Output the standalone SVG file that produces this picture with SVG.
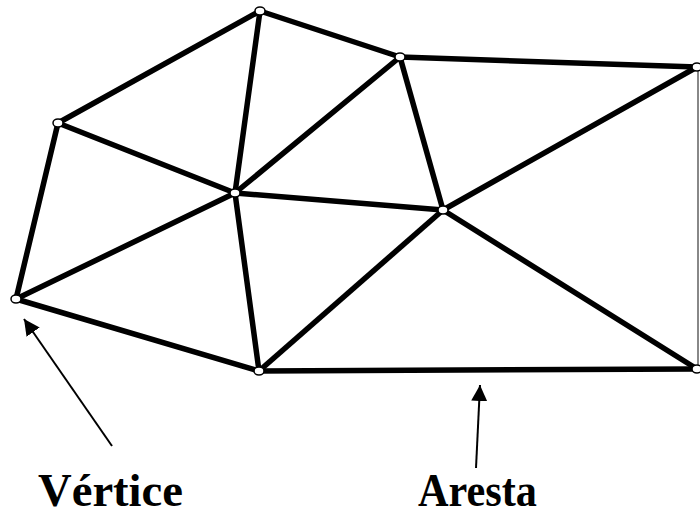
<svg xmlns="http://www.w3.org/2000/svg" width="700" height="517" viewBox="0 0 700 517">
<style>
.e{stroke:#000;stroke-width:5.5;stroke-linecap:round}
.v{fill:#fff;stroke:#000;stroke-width:1.5}
.a{stroke:#000;stroke-width:2}
.t{font-family:"Liberation Serif",serif;font-weight:bold;font-size:46px;fill:#000}
</style>
<defs>
<marker id="ah" viewBox="0 0 10 10" refX="10" refY="5" markerWidth="8" markerHeight="8" markerUnits="strokeWidth" orient="auto">
<path d="M0,0 L10,5 L0,10 z" fill="#000"/>
</marker>
</defs>
<rect width="700" height="517" fill="#fff"/>
<g id="connectors">
<line class="e" x1="260" y1="11" x2="58" y2="123"/>
<line class="e" x1="260" y1="11" x2="400" y2="57"/>
<line class="e" x1="260" y1="11" x2="235" y2="193"/>
<line class="e" x1="400" y1="57" x2="235" y2="193"/>
<line class="e" x1="400" y1="57" x2="697" y2="67"/>
<line class="e" x1="400" y1="57" x2="443" y2="210"/>
<line class="e" x1="58" y1="123" x2="235" y2="193"/>
<line class="e" x1="58" y1="123" x2="16" y2="299"/>
<line class="e" x1="16" y1="299" x2="235" y2="193"/>
<line class="e" x1="235" y1="193" x2="443" y2="210"/>
<line class="e" x1="235" y1="193" x2="259" y2="371"/>
<line class="e" x1="16" y1="299" x2="259" y2="371"/>
<line class="e" x1="259" y1="371" x2="443" y2="210"/>
<line class="e" x1="443" y1="210" x2="697" y2="67"/>
<line class="e" x1="443" y1="210" x2="697" y2="369"/>
<line class="e" x1="259" y1="371" x2="697" y2="369"/>
<line x1="698" y1="67" x2="698" y2="369" stroke="#888" stroke-width="2"/>
<line class="a" x1="112" y1="446" x2="24" y2="319" marker-end="url(#ah)"/>
<line class="a" x1="476" y1="468" x2="480" y2="385" marker-end="url(#ah)"/>
</g>
<g id="vA"><ellipse class="v" cx="260" cy="11" rx="5" ry="4"/></g>
<g id="vB"><ellipse class="v" cx="400" cy="57" rx="5" ry="4"/></g>
<g id="vC"><ellipse class="v" cx="697" cy="67" rx="5" ry="4"/></g>
<g id="vD"><ellipse class="v" cx="58" cy="123" rx="5" ry="4"/></g>
<g id="vE"><ellipse class="v" cx="235" cy="193" rx="5" ry="4"/></g>
<g id="vF"><ellipse class="v" cx="443" cy="210" rx="5" ry="4"/></g>
<g id="vG"><ellipse class="v" cx="16" cy="299" rx="5" ry="4"/></g>
<g id="vH"><ellipse class="v" cx="259" cy="371" rx="5" ry="4"/></g>
<g id="vI"><ellipse class="v" cx="697" cy="369" rx="5" ry="4"/></g>
<g id="labels">
<text class="t" x="38" y="506" textLength="145" lengthAdjust="spacingAndGlyphs">Vértice</text>
<text class="t" x="418" y="506" textLength="119" lengthAdjust="spacingAndGlyphs">Aresta</text>
</g>
</svg>
